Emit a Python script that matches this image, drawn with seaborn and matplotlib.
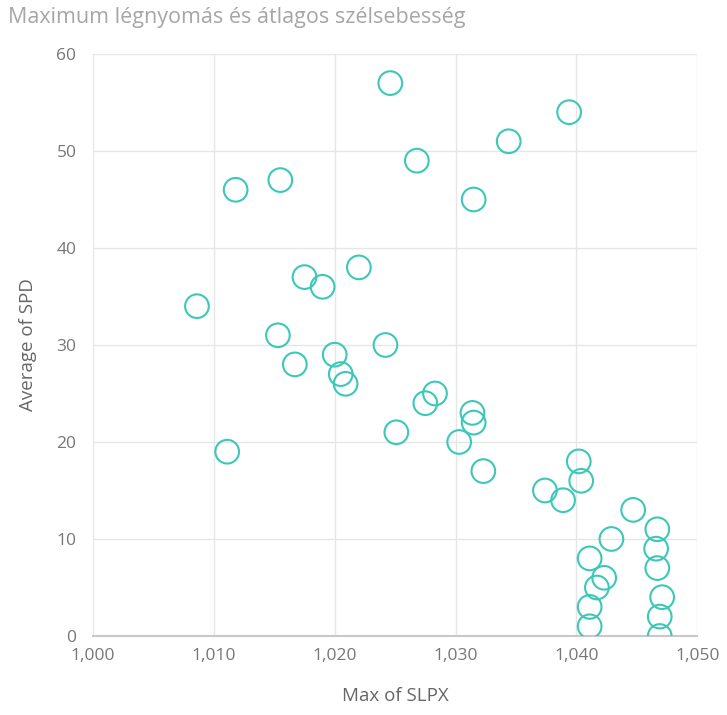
import matplotlib
matplotlib.use('Agg')
import matplotlib.pyplot as plt
import matplotlib.ticker as mticker
import seaborn as sns
import pandas as pd

# Datos
max_slpx = [1024.6, 1039.4, 1034.4, 1026.8, 1015.5, 1011.8, 1031.5, 1022.0, 1017.5, 1019.0,
            1008.6, 1015.3, 1024.2, 1020.0, 1016.7, 1020.5, 1020.9, 1028.3, 1027.5, 1031.4,
            1031.5, 1025.1, 1030.3, 1011.1, 1040.2, 1032.3, 1040.4, 1037.4, 1038.9, 1044.7,
            1046.7, 1042.9, 1046.6, 1041.1, 1046.7, 1042.3, 1041.7, 1047.1, 1041.1, 1046.9,
            1041.1, 1046.9]
avg_spd = [57, 54, 51, 49, 47, 46, 45, 38, 37, 36,
           34, 31, 30, 29, 28, 27, 26, 25, 24, 23,
           22, 21, 20, 19, 18, 17, 16, 15, 14, 13,
           11, 10, 9, 8, 7, 6, 5, 4, 3, 2,
           1, 0]
x_ticks = [1000, 1010, 1020, 1030, 1040, 1050]
y_ticks = [0, 10, 20, 30, 40, 50, 60]

df = pd.DataFrame({'Max of SLPX': max_slpx, 'Average of SPD': avg_spd})

sns.set_theme(style="white")
plt.rcParams['font.family'] = ['Open Sans', 'DejaVu Sans']

fig = plt.figure(figsize=(7.27, 7.15), dpi=100)
ax = fig.add_axes([0.128, 0.1105, 0.831, 0.814])

sns.scatterplot(data=df, x='Max of SLPX', y='Average of SPD', ax=ax,
                marker='o', s=290, facecolors='none', edgecolor='#3CC8B8',
                linewidth=1.5, legend=False, zorder=3)

ax.set_xlim(1000, 1050)
ax.set_ylim(0, 60)
ax.set_xticks(x_ticks)
ax.set_yticks(y_ticks)
ax.xaxis.set_major_formatter(mticker.FuncFormatter(lambda v, p: f'{int(v):,}'))
ax.grid(True, color='#E6E6E6', linewidth=1)
ax.set_axisbelow(True)

for lado in ['top', 'right', 'left']:
    ax.spines[lado].set_visible(False)
ax.spines['bottom'].set_color('#C8C8C8')
ax.spines['bottom'].set_linewidth(1.5)

ax.tick_params(axis='x', length=0, labelsize=12.5, labelcolor='#777777', pad=9)
ax.tick_params(axis='y', length=0, labelsize=12.5, labelcolor='#777777', pad=12)
ax.set_xlabel('Max of SLPX', fontsize=13.5, color='#666666', labelpad=16)
ax.set_ylabel('Average of SPD', fontsize=13.5, color='#666666', labelpad=14)

fig.text(0.011, 0.975, 'Maximum légnyomás és átlagos szélsebesség',
         fontsize=15.5, color='#A6A6A6', ha='left', va='center')

plt.savefig('out.png', dpi=100)
plt.close()
